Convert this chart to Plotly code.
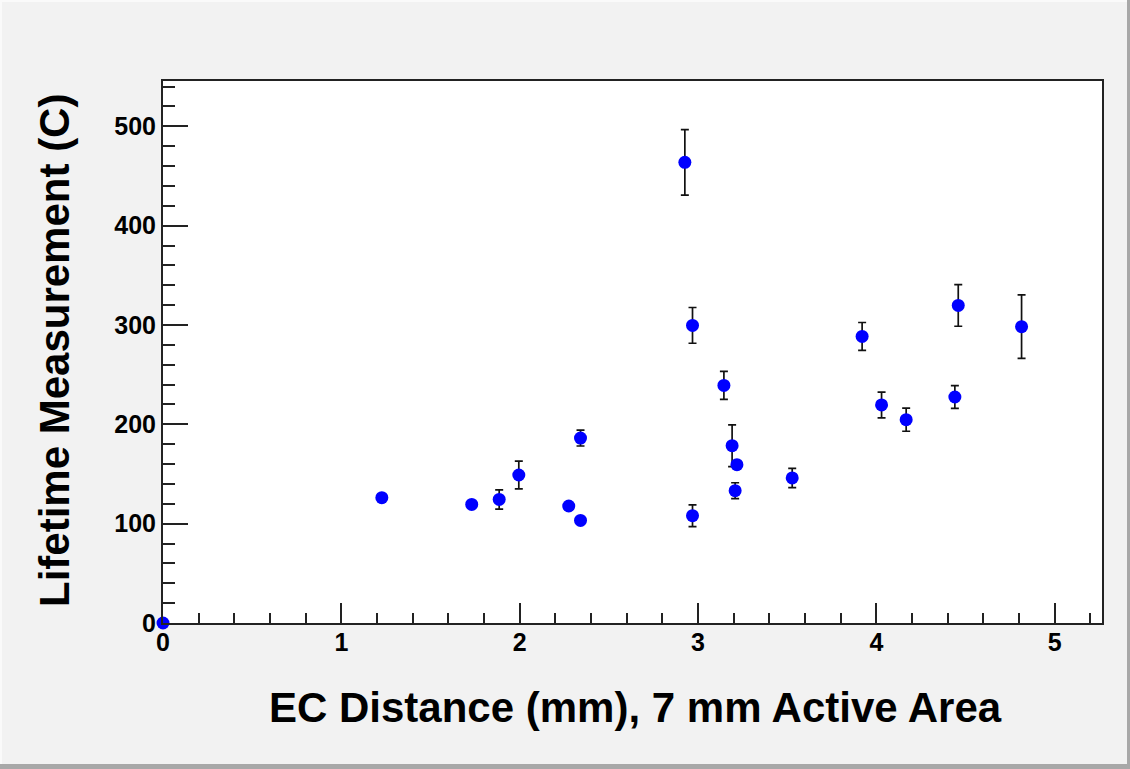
import plotly.graph_objects as go

# Data
ec_distance = [0.0, 1.227, 1.731, 1.885, 1.995, 2.275, 2.341, 2.341, 2.926, 2.969,
               2.969, 3.145, 3.191, 3.218, 3.208, 3.528, 3.920, 4.029, 4.167, 4.440,
               4.459, 4.814]
lifetime = [0.0, 126.2, 119.4, 124.4, 149.0, 117.8, 186.2, 103.3, 463.7, 299.6,
            108.0, 239.2, 178.5, 159.4, 133.2, 146.0, 288.5, 219.5, 204.7, 227.5,
            319.7, 298.3]
lifetime_err = [0.0, 3.0, 3.0, 9.7, 14.0, 3.0, 8.0, 3.0, 33.0, 18.0,
                11.0, 14.0, 21.0, 3.0, 8.0, 9.7, 14.0, 13.0, 11.7, 11.5,
                21.0, 32.0]

x_ticks = [0, 1, 2, 3, 4, 5]
y_ticks = [0, 100, 200, 300, 400, 500]

x_title = "EC Distance (mm), 7 mm Active Area"
y_title = "Lifetime Measurement (C)"

FONT = "Liberation Sans, Arial, sans-serif"

fig = go.Figure()
fig.add_trace(go.Scatter(
    x=ec_distance, y=lifetime, mode="markers",
    marker=dict(color="#0000ff", size=13, line=dict(width=0)),
    error_y=dict(type="data", array=lifetime_err, visible=True,
                 color="#111111", thickness=1.7, width=4),
    cliponaxis=False, showlegend=False,
))

W, H = 1130, 769
L, R, T, B = 163, 28, 81, 146
pw, ph = W - L - R, H - T - B

def px_x(px):
    return (px - L) / pw

def px_y(py):
    return (T + ph - py) / ph

fig.update_layout(
    width=W, height=H,
    margin=dict(l=L, r=R, t=T, b=B, pad=0),
    paper_bgcolor="#f2f2f2", plot_bgcolor="#ffffff",
    font=dict(family=FONT, color="#000000"),
    xaxis=dict(
        range=[0, 5.265], tickvals=x_ticks, ticktext=[str(v) for v in x_ticks],
        ticks="inside", ticklen=20, tickwidth=1.6, tickcolor="#222222",
        minor=dict(dtick=0.2, tick0=0, ticks="inside", ticklen=10, tickwidth=1.6, tickcolor="#222222"),
        showline=True, linecolor="#222222", linewidth=2, mirror=True,
        showgrid=False, zeroline=False,
        tickfont=dict(family=FONT, size=25, weight=700),
        ticklabelstandoff=-4,
    ),
    yaxis=dict(
        range=[0, 545.6], tickvals=y_ticks, ticktext=[str(v) for v in y_ticks],
        ticks="inside", ticklen=25, tickwidth=1.6, tickcolor="#222222",
        minor=dict(dtick=20, tick0=0, ticks="inside", ticklen=12, tickwidth=1.6, tickcolor="#222222"),
        showline=True, linecolor="#222222", linewidth=2, mirror=True,
        showgrid=False, zeroline=False,
        tickfont=dict(family=FONT, size=25, weight=700),
        ticklabelstandoff=0,
    ),
    annotations=[
        dict(text=x_title, xref="paper", yref="paper", x=px_x(635), y=px_y(707),
             xanchor="center", yanchor="middle", showarrow=False,
             font=dict(family=FONT, size=42, weight=700, color="#000000")),
        dict(text=y_title, xref="paper", yref="paper", x=px_x(54), y=px_y(351),
             xanchor="center", yanchor="middle", showarrow=False, textangle=-90,
             font=dict(family=FONT, size=42, weight=700, color="#000000")),
    ],
    shapes=[
        dict(type="rect", xref="paper", yref="paper", x0=px_x(1127), x1=px_x(1130),
             y0=px_y(769), y1=px_y(0), fillcolor="#a8a8a8", line=dict(width=0), layer="below"),
        dict(type="rect", xref="paper", yref="paper", x0=px_x(0), x1=px_x(1130),
             y0=px_y(769), y1=px_y(764), fillcolor="#a8a8a8", line=dict(width=0), layer="below"),
        dict(type="rect", xref="paper", yref="paper", x0=px_x(0), x1=px_x(2),
             y0=px_y(764), y1=px_y(0), fillcolor="#fafafa", line=dict(width=0), layer="below"),
        dict(type="rect", xref="paper", yref="paper", x0=px_x(0), x1=px_x(1127),
             y0=px_y(2), y1=px_y(0), fillcolor="#fafafa", line=dict(width=0), layer="below"),
    ],
)

fig.write_html("out.html", config={"displayModeBar": False},
               post_script="document.body.style.margin='0';document.body.style.padding='0';")
